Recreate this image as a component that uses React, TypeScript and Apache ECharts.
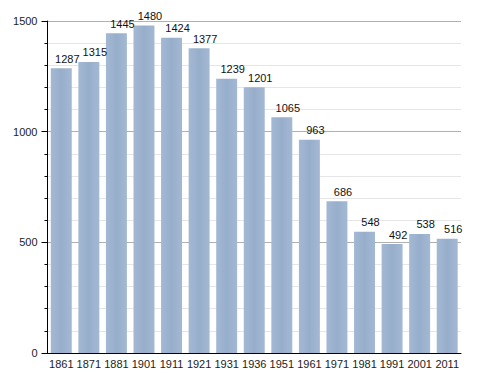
import React, { useEffect, useRef } from "react";
import * as echarts from "echarts";

const years = ["1861","1871","1881","1901","1911","1921","1931","1936","1951","1961","1971","1981","1991","2001","2011"];
const population = [1287,1315,1445,1480,1424,1377,1239,1201,1065,963,686,548,492,538,516];
const yTicks = [0, 500, 1000, 1500];

export default function App() {
  const ref = useRef<HTMLDivElement>(null);
  useEffect(() => {
    if (!ref.current) return;
    const chart = echarts.init(ref.current, null, { renderer: "svg" });
    chart.setOption({
      animation: false,
      backgroundColor: "#ffffff",
      textStyle: { fontFamily: "Liberation Sans, Arial, sans-serif" },
      grid: { left: 47.5, right: 27, top: 21, bottom: 20 },
      xAxis: {
        type: "category",
        data: years,
        axisLine: { lineStyle: { color: "#000", width: 1 } },
        axisTick: { show: false },
        axisLabel: { color: "#222", fontSize: 11, margin: 5, interval: 0 },
      },
      yAxis: {
        type: "value",
        min: yTicks[0],
        max: yTicks[yTicks.length - 1],
        interval: 500,
        axisLine: { show: true, lineStyle: { color: "#000", width: 1 } },
        axisTick: { show: true, length: 6, lineStyle: { color: "#000" } },
        minorTick: { show: true, splitNumber: 5, length: 3, lineStyle: { color: "#000" } },
        splitLine: { show: true, lineStyle: { color: "#b0b0b0", width: 1 } },
        minorSplitLine: { show: true, lineStyle: { color: "#e6e6e6", width: 1 } },
        axisLabel: { color: "#222", fontSize: 11, margin: 10, formatter: (v: number) => String(v) },
      },
      series: [
        {
          type: "bar",
          data: population,
          barCategoryGap: "24%",
          itemStyle: {
            color: new echarts.graphic.LinearGradient(0, 0, 1, 0, [
              { offset: 0, color: "#a3b8d3" },
              { offset: 0.5, color: "#97aecb" },
              { offset: 1, color: "#a3b8d3" },
            ]),
          },
          label: {
            show: true,
            position: "top",
            distance: 4,
            offset: [6, 0],
            color: "#111",
            fontSize: 11,
          },
        },
      ],
    });
    return () => chart.dispose();
  }, []);
  return <div ref={ref} style={{ width: 488, height: 373, position: "absolute", left: 0, top: 0 }} />;
}
